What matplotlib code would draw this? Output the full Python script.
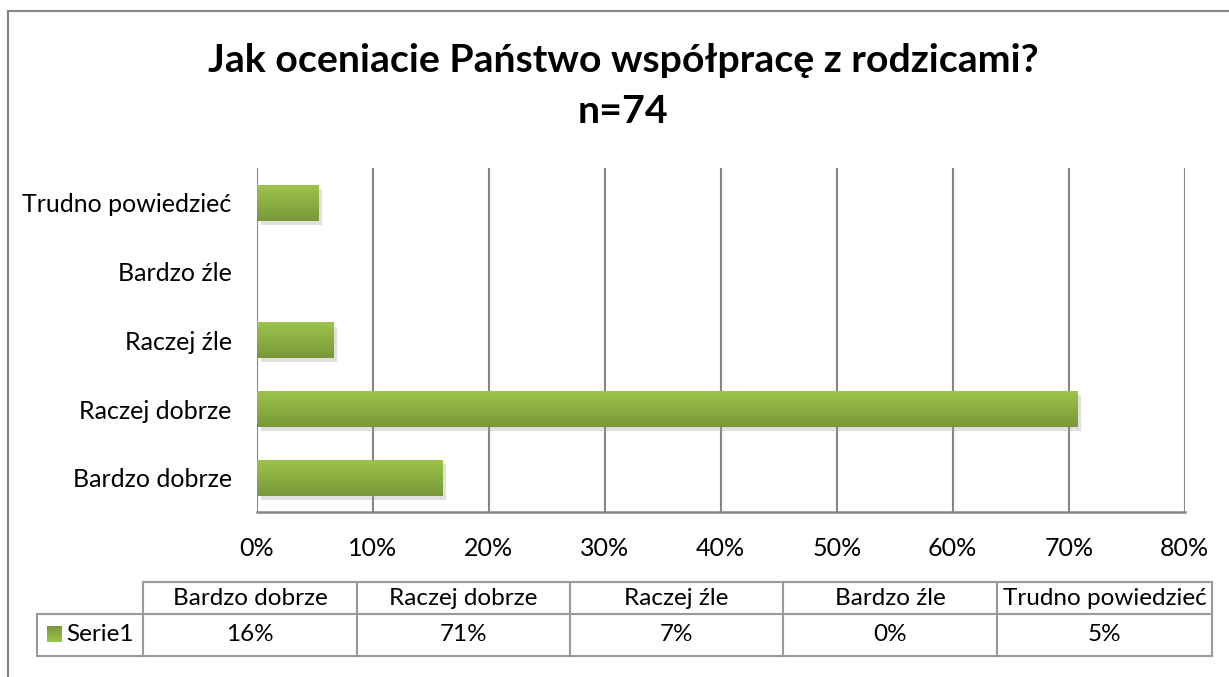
import matplotlib
matplotlib.use("Agg")
import matplotlib.pyplot as plt
import numpy as np
from matplotlib import patheffects as pe
from matplotlib.colors import LinearSegmentedColormap

plt.rcParams['font.family'] = ['Lato', 'DejaVu Sans']

categories = ["Bardzo dobrze", "Raczej dobrze", "Raczej źle", "Bardzo źle", "Trudno powiedzieć"]
values = [0.160, 0.707, 0.066, 0.0, 0.053]
series_name = "Serie1"
xticks = [0, 0.1, 0.2, 0.3, 0.4, 0.5, 0.6, 0.7, 0.8]
title1 = "Jak oceniacie Państwo współpracę z rodzicami?"
title2 = "n=74"

W, H = 1229, 677
fig = plt.figure(figsize=(W / 100, H / 100), dpi=100)

grid_col = "#868686"
top_col = "#9DC44B"
bot_col = "#789839"
cmap = LinearSegmentedColormap.from_list("g", [bot_col, top_col])

ax = fig.add_axes([256.7 / W, (H - 512.3) / H, 928 / W, 344 / H])
y = np.arange(len(categories))
bars = ax.barh(y, values, height=0.52, color=top_col, zorder=3,
               path_effects=[pe.SimplePatchShadow(offset=(3, -3), shadow_rgbFace="#999999", alpha=0.3), pe.Normal()])
grad = np.linspace(0, 1, 100).reshape(-1, 1)
for b in bars:
    x0, y0 = b.get_x(), b.get_y()
    w, h = b.get_width(), b.get_height()
    if w <= 0:
        continue
    im = ax.imshow(grad, cmap=cmap, aspect='auto', origin='lower',
                   extent=(x0, x0 + w, y0, y0 + h), zorder=4)
    im.set_clip_path(b)

ax.set_xlim(0, 0.8)
ax.set_ylim(-0.5, len(categories) - 0.5)
ax.set_xticks(xticks)
ax.set_xticklabels([f"{int(round(t * 100))}%" for t in xticks], fontsize=18)
ax.set_yticks(y)
ax.set_yticklabels(categories, fontsize=18)
ax.tick_params(axis='x', length=0, pad=18)
ax.tick_params(axis='y', length=0, pad=18)
ax.grid(axis='x', color=grid_col, linewidth=1.5, zorder=0)
for s in ["top", "right", "left"]:
    ax.spines[s].set_visible(False)
ax.spines["bottom"].set_color(grid_col)
ax.spines["bottom"].set_linewidth(1.8)

# overlay in pixel coordinates for title, border and data table
ov = fig.add_axes([0, 0, 1, 1], zorder=-1)
ov.set_xlim(0, W)
ov.set_ylim(H, 0)
ov.axis("off")
ov.plot([8, W], [11, 11], color=grid_col, lw=1.5)
ov.plot([8, 8], [11, H], color=grid_col, lw=1.5)

ov.text(623.5, 72, title1, ha="center", va="baseline", fontsize=28.3, fontweight="bold")
ov.text(623.5, 123, title2, ha="center", va="baseline", fontsize=28.3, fontweight="bold")

col_edges = [37, 143, 357, 570, 783, 997, 1212]
row_edges = [581.5, 613.5, 655.5]
lc = "#9a9a9a"
ov.plot([col_edges[1], col_edges[-1]], [row_edges[0]] * 2, color=lc, lw=1.5)
ov.plot([col_edges[0], col_edges[-1]], [row_edges[1]] * 2, color=lc, lw=1.5)
ov.plot([col_edges[0], col_edges[-1]], [row_edges[2]] * 2, color=lc, lw=1.5)
for i, xe in enumerate(col_edges):
    top = row_edges[1] if i == 0 else row_edges[0]
    ov.plot([xe, xe], [top, row_edges[2]], color=lc, lw=1.5)

for i, (c, v) in enumerate(zip(categories, values)):
    xc = (col_edges[i + 1] + col_edges[i + 2]) / 2
    ov.text(xc, (row_edges[0] + row_edges[1]) / 2 + 1, c, ha="center", va="center", fontsize=17.5)
    ov.text(xc, (row_edges[1] + row_edges[2]) / 2, f"{v:.0%}", ha="center", va="center", fontsize=17.5)

# legend key
ov.imshow(grad, cmap=cmap, aspect='auto', origin='upper', extent=(46.7, 61.7, 641.7, 626), zorder=3)
ov.set_xlim(0, W)
ov.set_ylim(H, 0)
ov.text(66, (row_edges[1] + row_edges[2]) / 2, series_name, ha="left", va="center", fontsize=17.5)

fig.savefig("out.png", dpi=100)
